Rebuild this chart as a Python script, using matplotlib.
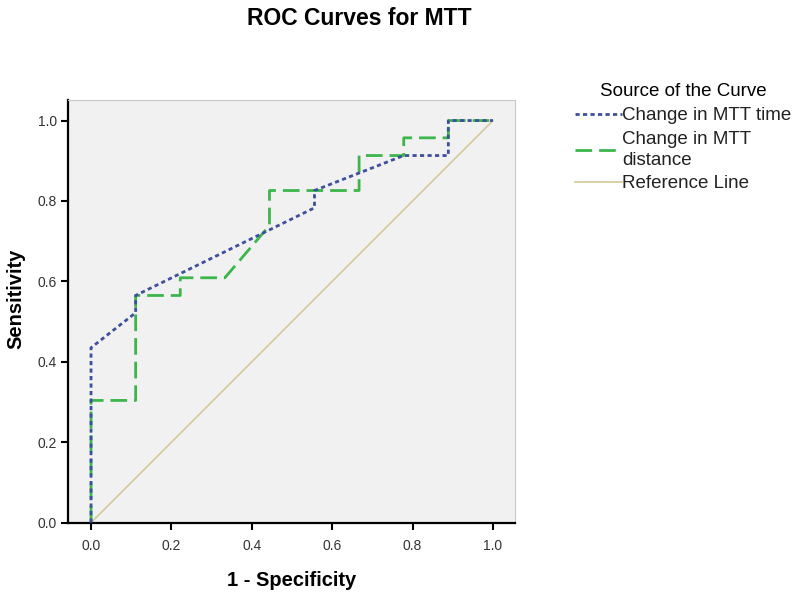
import matplotlib
matplotlib.use("Agg")
import matplotlib.pyplot as plt

plt.rcParams['font.family'] = ['Liberation Sans', 'DejaVu Sans']

# ROC points (9 negatives, 23 positives)
fpr_time = [0, 0, 0.111, 0.111, 0.556, 0.556, 0.778, 0.889, 0.889, 1.0]
tpr_time = [0, 0.435, 0.522, 0.565, 0.783, 0.826, 0.913, 0.913, 1.0, 1.0]

fpr_dist = [0, 0, 0.111, 0.111, 0.222, 0.222, 0.333, 0.444, 0.444, 0.667,
            0.667, 0.778, 0.778, 0.889, 0.889, 1.0]
tpr_dist = [0, 0.304, 0.304, 0.565, 0.565, 0.609, 0.609, 0.739, 0.826, 0.826,
            0.913, 0.913, 0.957, 0.957, 1.0, 1.0]

ref_x = [0, 1]
ref_y = [0, 1]

labels = ['Change in MTT time', 'Change in MTT\ndistance', 'Reference Line']
ticks = [0.0, 0.2, 0.4, 0.6, 0.8, 1.0]

fig = plt.figure(figsize=(8, 5.93), dpi=100)
ax = fig.add_axes([0.0854, 0.1186, 0.5584, 0.7127], facecolor='#f1f1f1')

ax.plot(ref_x, ref_y, '-', c='#d8cda0', lw=1.3, zorder=1, label=labels[2])
ax.plot(fpr_time, tpr_time, c='#3d4f9e', lw=2, ls=(0, (1.5, 1.2)), zorder=3, label=labels[0])
ax.plot(fpr_dist, tpr_dist, c='#3cb64b', lw=2, ls=(0, (6, 2.5)), zorder=2, label=labels[1])

ax.set_xlim(-0.0565, 1.055)
ax.set_ylim(0, 1.051)
ax.set_xticks(ticks)
ax.set_yticks(ticks)
ax.set_xticklabels(['%.1f' % t for t in ticks])
ax.set_yticklabels(['%.1f' % t for t in ticks])
ax.tick_params(direction='out', length=5, width=1.5, labelsize=10, colors='black',
               labelcolor='#333333')
ax.tick_params(axis='x', pad=7)
ax.tick_params(axis='y', pad=3)

for s in ['left', 'bottom']:
    ax.spines[s].set_linewidth(1.6)
    ax.spines[s].set_color('black')
for s in ['right', 'top']:
    ax.spines[s].set_linewidth(0.8)
    ax.spines[s].set_color('#c8c8c8')

ax.set_xlabel('1 - Specificity', fontsize=14.5, fontweight='bold', labelpad=13)
ax.set_ylabel('Sensitivity', fontsize=14.5, fontweight='bold')
ax.yaxis.set_label_coords(-0.095, 0.529)
fig.text(0.449, 0.958, 'ROC Curves for MTT', ha='center', va='baseline',
         fontsize=16.5, fontweight='bold')

h, l = ax.get_legend_handles_labels()
order = [1, 2, 0]
leg = fig.legend([h[i] for i in order], [l[i] for i in order],
                 title='Source of the Curve', loc='upper left',
                 bbox_to_anchor=(0.7075, 0.875), frameon=False,
                 fontsize=13.5, title_fontsize=13.5, handlelength=2.5,
                 handletextpad=0.0, borderpad=0, labelspacing=0.35)
for t in leg.get_texts():
    t.set_color('#222222')
    t.set_linespacing(1.3)

fig.savefig('out.png', dpi=100)
